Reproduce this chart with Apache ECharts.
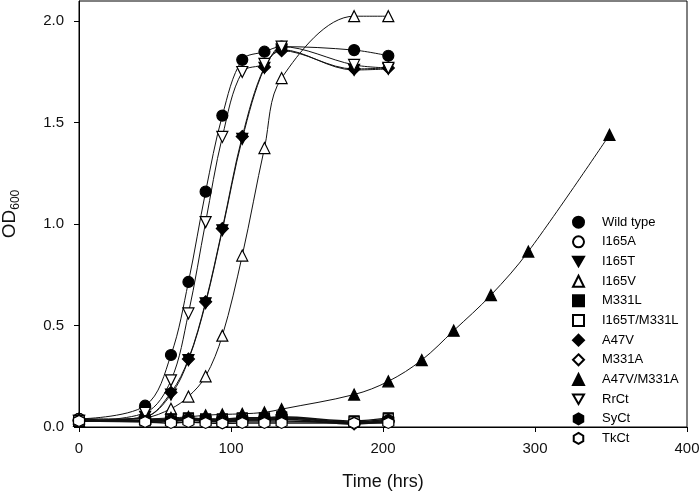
<!DOCTYPE html>
<html><head><meta charset="utf-8">
<script src="https://cdn.jsdelivr.net/npm/echarts@6/dist/echarts.min.js"></script>
<style>html,body{margin:0;padding:0;background:#fff}#c{width:700px;height:497px}</style>
</head><body><div id="c"></div>
<script>
// Time points (hrs)
const times = [0, 43.5, 60.5, 72, 83.3, 94.3, 107.4, 122, 133.3, 181, 203.5];
const timesLong = [0, 43.5, 60.5, 72, 83.3, 94.3, 107.4, 122, 133.3, 181, 203.5, 225.5, 246.5, 271, 295.6, 349];

// OD600 values
const wildType  = [0.04, 0.105, 0.355, 0.715, 1.16, 1.535, 1.81, 1.85, 1.875, 1.858, 1.83];
const i165A     = [0.04, 0.03, 0.03, 0.035, 0.03, 0.025, 0.03, 0.03, 0.03, 0.02, 0.025];
const i165T     = [0.03, 0.05, 0.16, 0.33, 0.61, 0.97, 1.42, 1.77, 1.86, 1.76, 1.765];
const i165V     = [0.03, 0.045, 0.09, 0.15, 0.25, 0.45, 0.845, 1.375, 1.72, 2.025, 2.025];
const m331L     = [0.03, 0.035, 0.04, 0.045, 0.04, 0.04, 0.045, 0.045, 0.05, 0.03, 0.045];
const i165TM331L= [0.03, 0.03, 0.035, 0.04, 0.035, 0.035, 0.04, 0.04, 0.045, 0.025, 0.04];
const a47V      = [0.03, 0.05, 0.17, 0.335, 0.617, 0.978, 1.432, 1.775, 1.855, 1.765, 1.77];
const m331A     = [0.035, 0.03, 0.03, 0.035, 0.03, 0.03, 0.035, 0.035, 0.04, 0.015, 0.03];
const a47VM331A = [0.04, 0.04, 0.045, 0.05, 0.058, 0.062, 0.065, 0.072, 0.088, 0.16, 0.225, 0.33, 0.475, 0.65, 0.865, 1.44];
const rrCt      = [0.03, 0.07, 0.23, 0.56, 1.01, 1.43, 1.75, 1.79, 1.875, 1.785, 1.77];
const syCt      = [0.03, 0.03, 0.035, 0.04, 0.04, 0.035, 0.04, 0.04, 0.045, 0.02, 0.035];
const tkCt      = [0.03, 0.025, 0.02, 0.025, 0.02, 0.018, 0.02, 0.02, 0.02, 0.02, 0.02];

// Axis ticks
const xTicks = [0, 100, 200, 300, 400];
const yTicks = [0, 0.5, 1.0, 1.5, 2.0];

const HEX = 'path://M0,-1 L0.866,-0.5 L0.866,0.5 L0,1 L-0.866,0.5 L-0.866,-0.5 Z';
const DOWN = 'path://M0,0 L10,0 L5,8.66 Z';

function mk(name, xs, ys, symbol, filled, size, lw) {
  return {
    name: name, type: 'line', smooth: 0.35,
    data: xs.map((x, i) => [x, ys[i]]),
    symbol: symbol, symbolSize: size, showSymbol: true,
    lineStyle: {color: '#111', width: lw || 1},
    itemStyle: {color: filled ? '#000' : '#fff', borderColor: '#000', borderWidth: 1.2},
    emphasis: {disabled: true}, animation: false
  };
}

const seriesDefs = [
  ['Wild type', times, wildType, 'circle', true, 11, 1, 'circle'],
  ['I165A', times, i165A, 'circle', false, 11, 1.5, 'circle'],
  ['I165T', times, i165T, DOWN, true, 11, 1, DOWN],
  ['I165V', times, i165V, 'triangle', false, 11, 1, 'triangle'],
  ['M331L', times, m331L, 'rect', true, 10, 1.5, 'rect'],
  ['I165T/M331L', times, i165TM331L, 'rect', false, 10, 1.5, 'rect'],
  ['A47V', times, a47V, 'diamond', true, 12, 1, 'diamond'],
  ['M331A', times, m331A, 'diamond', false, 12, 1.5, 'diamond'],
  ['A47V/M331A', timesLong, a47VM331A, 'triangle', true, 11, 1, 'triangle'],
  ['RrCt', times, rrCt, DOWN, false, 11, 1, DOWN],
  ['SyCt', times, syCt, HEX, true, 11, 1.5, HEX],
  ['TkCt', times, tkCt, HEX, false, 11, 1.5, HEX]
];

const series = seriesDefs.map(d => mk(d[0], d[1], d[2], d[3], d[4], d[5], d[6]));

const font = "'Liberation Sans', Arial, sans-serif";
const chart = echarts.init(document.getElementById('c'), null, {renderer: 'canvas'});
chart.setOption({
  animation: false,
  backgroundColor: '#fff',
  textStyle: {fontFamily: font},
  grid: {left: 79, right: 13, top: 1, bottom: 70, show: true, borderColor: '#000', borderWidth: 1,
    backgroundColor: 'transparent', containLabel: false, outerBoundsMode: 'none'},
  legend: {
    orient: 'vertical', left: 572, top: 215.7, padding: 0,
    itemWidth: 11, itemHeight: 11, itemGap: 6.66,
    selectedMode: false,
    textStyle: {fontFamily: font, fontSize: 13, color: '#000', lineHeight: 11, padding: [0, 0, 0, 13]},
    data: seriesDefs.map(d => ({name: d[0], icon: d[7]}))
  },
  xAxis: {
    type: 'value', min: 0, max: 400, interval: 100,
    name: 'Time (hrs)', nameLocation: 'middle', nameGap: 46,
    nameTextStyle: {fontFamily: font, fontSize: 18, color: '#111'},
    axisLine: {show: true, lineStyle: {color: '#000', width: 1}},
    axisTick: {show: true, inside: false, length: 5, lineStyle: {color: '#000'}, customValues: xTicks},
    axisLabel: {fontFamily: font, fontSize: 15, color: '#111', margin: 14, customValues: xTicks},
    splitLine: {show: false}
  },
  yAxis: {
    type: 'value', min: 0, max: 2.1, interval: 0.5,
    name: '{a|OD}{s|600}', nameLocation: 'middle', nameGap: 57, nameRotate: 90,
    nameTextStyle: {fontFamily: font, color: '#111', rich: {
      a: {fontFamily: font, fontSize: 19, color: '#111', lineHeight: 24, verticalAlign: 'middle'},
      s: {fontFamily: font, fontSize: 12, color: '#111', lineHeight: 12, verticalAlign: 'bottom'}
    }},
    axisLine: {show: true, lineStyle: {color: '#000', width: 1}},
    axisTick: {show: true, inside: false, length: 5, lineStyle: {color: '#000'}, customValues: yTicks},
    axisLabel: {fontFamily: font, fontSize: 15, color: '#111', margin: 15, customValues: yTicks,
      formatter: v => v.toFixed(1)},
    splitLine: {show: false}
  },
  series: series
});
</script>
</body></html>
